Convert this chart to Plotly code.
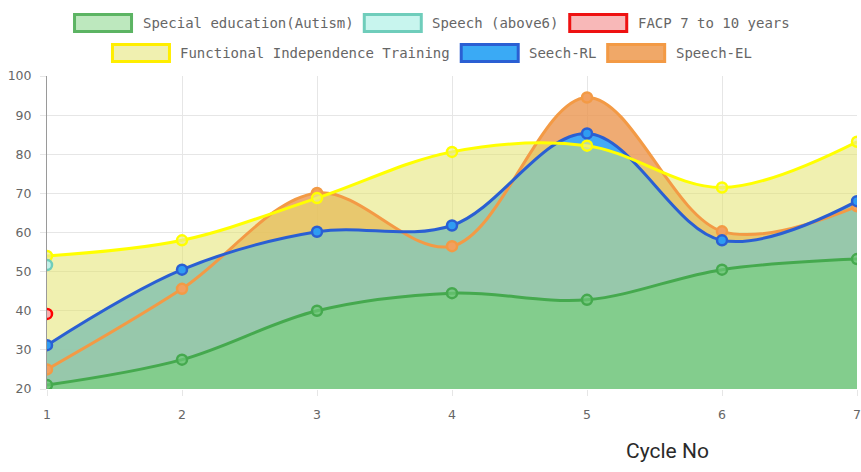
import plotly.graph_objects as go

cycles = [1, 2, 3, 4, 5, 6, 7]
autism = [21.0, 27.5, 40.0, 44.5, 42.8, 50.5, 53.2]
speech_above6 = [51.7]
facp = [39.2]
fit = [54.0, 58.0, 68.8, 80.6, 82.2, 71.5, 83.2]
seech_rl = [31.2, 50.5, 60.2, 61.8, 85.3, 58.0, 68.0]
speech_el = [25.0, 45.6, 70.1, 56.5, 94.5, 60.3, 66.7]

names = ["Special education(Autism)", "Speech (above6)", "FACP 7 to 10 years",
         "Functional Independence Training", "Seech-RL", "Speech-EL"]

# (x values, y values, line colour, fill colour, marker fill) in dataset order
series = [
    (cycles, autism, "#45a94e", "rgba(119,208,122,0.6)", "rgba(110,200,120,0.7)"),
    (cycles[:1], speech_above6, "#6fcdbb", "rgba(200,245,238,0.5)", "#c4f0e8"),
    (cycles[:1], facp, "#ff0000", "rgba(247,180,180,0.5)", "#f7b0b0"),
    (cycles, fit, "#ffff00", "rgba(226,226,106,0.53)", "rgba(235,235,140,0.7)"),
    (cycles, seech_rl, "#2a5fd3", "rgba(57,170,252,0.95)", "#2f9cf2"),
    (cycles, speech_el, "#f39a45", "rgba(235,150,80,0.8)", "#f2a060"),
]
legend_boxes = [
    ("#bde8be", "#5cb463"), ("#c8f5ee", "#6fcdbb"), ("#f8b8b8", "#ee1111"),
    ("#f0f0b0", "#ffee00"), ("#3aaaf5", "#2a5fd3"), ("#f0a868", "#f39a45"),
]

fig = go.Figure()

# fills first (last dataset at the bottom), then lines on top
for (x, y, lc, fc, mc), nm in reversed(list(zip(series, names))):
    fig.add_trace(go.Scatter(
        x=x, y=y, mode="none", fill="tozeroy", fillcolor=fc, showlegend=False,
        line=dict(shape="spline", smoothing=1.0), hoverinfo="skip", name=nm))
for (x, y, lc, fc, mc), nm in reversed(list(zip(series, names))):
    fig.add_trace(go.Scatter(
        x=x, y=y, mode="lines+markers", name=nm, showlegend=False,
        line=dict(color=lc, width=3, shape="spline", smoothing=1.0),
        marker=dict(size=10, color=mc, line=dict(color=lc, width=2.5))))

W, H = 861, 472
PL, PR, PT, PB = 47, 857, 76, 389  # plot box in pixels
pw, ph = PR - PL, PB - PT

def px(x):
    return (x - PL) / pw

def py(y):
    return (PB - y) / ph

char_w = 8.43
box_w, box_h, gap_txt, gap_item = 57, 17, 9, 13
rows = [(0, 3, 23), (3, 6, 53)]
shapes, annotations = [], []
for start, end, cy in rows:
    widths = [box_w + gap_txt + char_w * len(names[i]) for i in range(start, end)]
    total = sum(widths) + gap_item * (end - start - 1)
    x0 = 431 - total / 2
    for k, i in enumerate(range(start, end)):
        fc, lc = legend_boxes[i]
        shapes.append(dict(type="rect", xref="paper", yref="paper",
                           x0=px(x0), x1=px(x0 + box_w),
                           y0=py(cy - box_h / 2), y1=py(cy + box_h / 2),
                           fillcolor=fc, line=dict(color=lc, width=3), layer="above"))
        annotations.append(dict(text=names[i], xref="paper", yref="paper",
                                x=px(x0 + box_w + gap_txt), y=py(cy),
                                xanchor="left", yanchor="middle", showarrow=False,
                                font=dict(family="DejaVu Sans Mono", size=14, color="#666666")))
        x0 += widths[k] + gap_item

annotations.append(dict(text="Cycle No", xref="paper", yref="paper",
                        x=px(667), y=py(451), xanchor="center", yanchor="middle",
                        showarrow=False,
                        font=dict(family="Roboto", size=21, color="#2a2a2a")))

tickfont = dict(family="DejaVu Sans", size=12.5, color="#666666")
fig.update_layout(
    width=W, height=H,
    margin=dict(l=PL, r=W - PR, t=PT, b=H - PB),
    paper_bgcolor="white", plot_bgcolor="white",
    showlegend=False,
    xaxis=dict(range=[1, 7], tickvals=cycles, showgrid=True,
               gridcolor="#e6e6e6", gridwidth=1, zeroline=False, ticks="outside",
               ticklen=6, tickcolor="#e6e6e6", tickfont=tickfont, showline=False,
               automargin=False, ticklabelstandoff=8, ticklabeloverflow="allow"),
    yaxis=dict(range=[20, 100], dtick=10, showgrid=True, gridcolor="#e6e6e6",
               zeroline=False, ticks="outside", ticklen=6, tickcolor="#e6e6e6",
               tickfont=tickfont, showline=True, linecolor="#9a9a9a", linewidth=1,
               automargin=False, ticklabelstandoff=6, ticklabeloverflow="allow"),
    shapes=shapes,
    annotations=annotations,
)

fig.write_html(
    "out.html",
    config={"displayModeBar": False},
    post_script="document.body.style.margin='0px';document.body.style.overflow='hidden';",
)
